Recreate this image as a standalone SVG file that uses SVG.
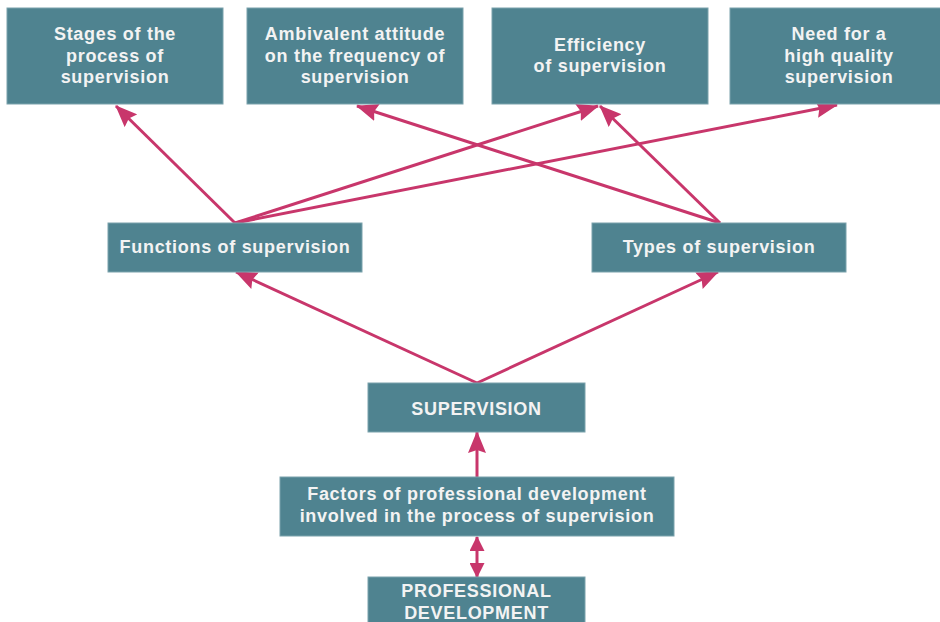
<svg xmlns="http://www.w3.org/2000/svg" width="940" height="622" viewBox="0 0 940 622">
<style>
.box{fill:#4f8390;stroke:#7ba2ac;stroke-width:1}
.t{font-family:"Liberation Sans",Arial,sans-serif;font-weight:bold;font-size:18px;fill:#f3f3f3;text-anchor:middle;letter-spacing:0.7px}
.c{stroke:#c8366b;stroke-width:3;fill:none}
</style>
<defs>
<marker id="ah" viewBox="0 0 22 18" markerWidth="22" markerHeight="18" refX="21" refY="9" orient="auto" markerUnits="userSpaceOnUse">
<path d="M0,0 L22,9 L0,18 L3,9 z" fill="#c8366b"/>
</marker>
<marker id="sh" viewBox="0 0 15 15" markerWidth="15" markerHeight="15" refX="14" refY="7.5" orient="auto-start-reverse" markerUnits="userSpaceOnUse">
<path d="M0,0 L15,7.5 L0,15 z" fill="#c8366b"/>
</marker>
</defs>
<rect width="940" height="622" fill="#ffffff"/>
<g id="connectors">
<line class="c" x1="235" y1="223" x2="116" y2="106" marker-end="url(#ah)"/>
<line class="c" x1="235" y1="223" x2="598" y2="106" marker-end="url(#ah)"/>
<line class="c" x1="235" y1="223" x2="837" y2="105" marker-end="url(#ah)"/>
<line class="c" x1="720" y1="223" x2="357" y2="106" marker-end="url(#ah)"/>
<line class="c" x1="720" y1="223" x2="600" y2="106" marker-end="url(#ah)"/>
<line class="c" x1="477" y1="383" x2="236" y2="272" marker-end="url(#ah)"/>
<line class="c" x1="477" y1="383" x2="718" y2="272" marker-end="url(#ah)"/>
<line class="c" x1="477" y1="477" x2="477" y2="432" marker-end="url(#ah)"/>
<line class="c" x1="477" y1="537" x2="477" y2="577" marker-start="url(#sh)" marker-end="url(#sh)"/>
</g>
<g id="stages">
<rect class="box" x="7" y="8" width="216" height="96"/>
<text class="t" x="115" y="40">Stages of the</text>
<text class="t" x="115" y="61.5">process of</text>
<text class="t" x="115" y="83">supervision</text>
</g>
<g id="ambivalent">
<rect class="box" x="247" y="8" width="216" height="96"/>
<text class="t" x="355" y="40">Ambivalent attitude</text>
<text class="t" x="355" y="61.5">on the frequency of</text>
<text class="t" x="355" y="83">supervision</text>
</g>
<g id="efficiency">
<rect class="box" x="492" y="8" width="216" height="96"/>
<text class="t" x="600" y="50.5">Efficiency</text>
<text class="t" x="600" y="72">of supervision</text>
</g>
<g id="need">
<rect class="box" x="730" y="8" width="218" height="96"/>
<text class="t" x="839" y="40">Need for a</text>
<text class="t" x="839" y="61.5">high quality</text>
<text class="t" x="839" y="83">supervision</text>
</g>
<g id="functions">
<rect class="box" x="108" y="223" width="254" height="49"/>
<text class="t" x="235" y="252.5">Functions of supervision</text>
</g>
<g id="types">
<rect class="box" x="592" y="223" width="254" height="49"/>
<text class="t" x="719" y="252.5">Types of supervision</text>
</g>
<g id="supervision">
<rect class="box" x="368" y="383" width="217" height="49"/>
<text class="t" x="476.5" y="415">SUPERVISION</text>
</g>
<g id="factors">
<rect class="box" x="280" y="477" width="394" height="59"/>
<text class="t" x="477" y="500">Factors of professional development</text>
<text class="t" x="477" y="522">involved in the process of supervision</text>
</g>
<g id="professional">
<rect class="box" x="368" y="577" width="217" height="50"/>
<text class="t" x="476.5" y="597">PROFESSIONAL</text>
<text class="t" x="476.5" y="619">DEVELOPMENT</text>
</g>
</svg>
